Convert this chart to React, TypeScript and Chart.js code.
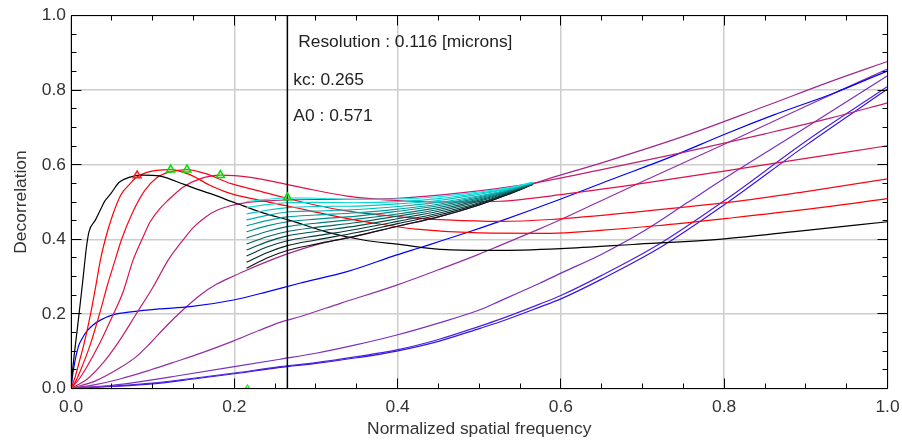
import React, { useEffect, useRef } from 'react';
import { Chart, registerables } from 'chart.js';

Chart.register(...registerables);

type Pt = [number, number];

const FONT = '"Liberation Sans", Arial, sans-serif';
const FONT_SIZE = 17.4;

const xTickLabels = ['0.0', '0.2', '0.4', '0.6', '0.8', '1.0'];
const yTickLabels = ['0.0', '0.2', '0.4', '0.6', '0.8', '1.0'];
const xTitle = 'Normalized spatial frequency';
const yTitle = 'Decorrelation';

const resolutionValue = 0.116;
const kcValue = 0.265;
const a0Value = 0.571;

// unfiltered decorrelation curve
const blackCurve: Pt[] = [
  [0, 0], [0.002, 0.05], [0.009, 0.183], [0.014, 0.28], [0.019, 0.38], [0.022, 0.42], [0.03, 0.452],
  [0.036, 0.479], [0.041, 0.501], [0.049, 0.523], [0.059, 0.553], [0.071, 0.566], [0.088, 0.572],
  [0.108, 0.57], [0.129, 0.555], [0.15, 0.538], [0.17, 0.523], [0.203, 0.496], [0.236, 0.47],
  [0.266, 0.452], [0.317, 0.417], [0.358, 0.398], [0.399, 0.387], [0.46, 0.372], [0.52, 0.37],
  [0.6, 0.375], [0.688, 0.386], [0.8, 0.401], [0.892, 0.422], [1.0, 0.447],
];

// high-pass filtered curves
const filtered1: Pt[] = [
  [0, 0], [0.005, 0.03], [0.01, 0.07], [0.016, 0.12], [0.024, 0.2], [0.03, 0.27], [0.036, 0.344],
  [0.042, 0.4], [0.051, 0.465], [0.061, 0.519], [0.071, 0.546], [0.08, 0.566], [0.092, 0.579],
  [0.105, 0.585], [0.122, 0.587], [0.145, 0.574], [0.17, 0.545], [0.195, 0.523], [0.23, 0.505],
  [0.264, 0.49], [0.317, 0.465], [0.366, 0.445], [0.423, 0.427], [0.5, 0.417], [0.587, 0.416],
  [0.648, 0.424], [0.72, 0.437], [0.803, 0.456], [0.9, 0.48], [1, 0.509],
];
const filtered2: Pt[] = [
  [0, 0], [0.006, 0.02], [0.012, 0.05], [0.024, 0.12], [0.035, 0.2], [0.045, 0.28], [0.054, 0.344],
  [0.062, 0.4], [0.075, 0.47], [0.09, 0.53], [0.105, 0.565], [0.12, 0.58], [0.142, 0.587],
  [0.165, 0.576], [0.195, 0.55], [0.23, 0.53], [0.264, 0.51], [0.329, 0.479], [0.399, 0.461],
  [0.46, 0.452], [0.525, 0.448], [0.587, 0.453], [0.7, 0.475], [0.827, 0.505], [0.9, 0.528], [1, 0.562],
];
const filtered3: Pt[] = [
  [0, 0], [0.01, 0.025], [0.02, 0.06], [0.035, 0.12], [0.05, 0.19], [0.064, 0.26], [0.076, 0.344],
  [0.087, 0.4], [0.097, 0.447], [0.108, 0.48], [0.118, 0.503], [0.138, 0.541], [0.158, 0.562],
  [0.183, 0.572], [0.22, 0.566], [0.28, 0.54], [0.338, 0.516], [0.4, 0.504], [0.45, 0.5],
  [0.525, 0.502], [0.6, 0.52], [0.7, 0.55], [0.8, 0.583], [0.9, 0.617], [1, 0.651],
];
const filtered4: Pt[] = [
  [0, 0], [0.02, 0.025], [0.04, 0.07], [0.06, 0.13], [0.08, 0.2], [0.1, 0.27], [0.119, 0.344],
  [0.129, 0.375], [0.14, 0.406], [0.15, 0.432], [0.165, 0.46], [0.178, 0.477], [0.195, 0.49],
  [0.211, 0.497], [0.24, 0.503], [0.27, 0.506], [0.32, 0.507], [0.4, 0.51], [0.48, 0.525],
  [0.565, 0.55], [0.65, 0.587], [0.75, 0.633], [0.85, 0.683], [0.93, 0.725], [1, 0.766],
];
const filtered5: Pt[] = [
  [0, 0], [0.03, 0.02], [0.06, 0.055], [0.08, 0.085], [0.097, 0.121], [0.118, 0.17], [0.138, 0.212],
  [0.158, 0.25], [0.178, 0.279], [0.2, 0.302], [0.215, 0.317], [0.24, 0.34],
  [0.264, 0.36], [0.3, 0.385], [0.35, 0.409], [0.4, 0.435], [0.45, 0.46], [0.5, 0.492],
  [0.535, 0.52], [0.565, 0.548], [0.65, 0.605], [0.75, 0.676], [0.85, 0.757], [0.93, 0.823], [1, 0.877],
];
const filtered6: Pt[] = [
  [0, 0], [0.03, 0.01], [0.06, 0.025], [0.097, 0.049], [0.129, 0.072], [0.16, 0.095], [0.2, 0.128],
  [0.23, 0.155], [0.256, 0.177], [0.28, 0.192], [0.33, 0.228], [0.399, 0.277], [0.45, 0.318],
  [0.5, 0.36], [0.525, 0.383], [0.574, 0.428], [0.6, 0.453], [0.648, 0.502], [0.7, 0.555],
  [0.8, 0.655], [0.9, 0.757], [1, 0.857],
];
const filtered7: Pt[] = [
  [0, 0], [0.05, 0.008], [0.097, 0.022], [0.129, 0.033], [0.2, 0.058], [0.256, 0.078], [0.3, 0.094],
  [0.35, 0.117], [0.399, 0.143], [0.45, 0.175], [0.5, 0.21], [0.525, 0.234], [0.574, 0.282],
  [0.6, 0.309], [0.65, 0.36], [0.7, 0.42], [0.754, 0.497], [0.8, 0.563], [0.9, 0.7], [1, 0.839],
];
const filtered8: Pt[] = [
  [0, 0], [0.05, 0.006], [0.1, 0.014], [0.15, 0.027], [0.2, 0.041], [0.256, 0.058], [0.3, 0.069],
  [0.35, 0.085], [0.399, 0.103], [0.45, 0.131], [0.501, 0.167], [0.525, 0.185], [0.574, 0.226],
  [0.6, 0.249], [0.65, 0.303], [0.721, 0.388], [0.803, 0.508], [0.9, 0.663], [1, 0.81],
];
const filtered9: Pt[] = [
  [0, 0], [0.05, 0.005], [0.1, 0.012], [0.15, 0.025], [0.2, 0.039], [0.256, 0.056], [0.3, 0.067],
  [0.35, 0.082], [0.399, 0.1], [0.45, 0.126], [0.501, 0.161], [0.525, 0.178], [0.574, 0.218],
  [0.6, 0.24], [0.65, 0.293], [0.721, 0.377], [0.803, 0.497], [0.9, 0.652], [1, 0.803],
];
const blueCurve: Pt[] = [
  [0, 0], [0.003, 0.05], [0.009, 0.112], [0.014, 0.135], [0.019, 0.152], [0.027, 0.17], [0.036, 0.183],
  [0.051, 0.197], [0.076, 0.206], [0.108, 0.213], [0.146, 0.219], [0.199, 0.237], [0.24, 0.259],
  [0.28, 0.282], [0.338, 0.313], [0.399, 0.358], [0.431, 0.38], [0.485, 0.418], [0.525, 0.448],
  [0.6, 0.508], [0.66, 0.559], [0.73, 0.617], [0.803, 0.684], [0.86, 0.733], [0.934, 0.792], [1, 0.852],
];

// refinement curves (cyan -> black)
const refineX = [0.215, 0.24, 0.265, 0.3, 0.35, 0.4, 0.45, 0.5, 0.535, 0.565];
const refineY: number[][] = [
  [0.501, 0.507, 0.511, 0.510, 0.507, 0.508, 0.514, 0.527, 0.538, 0.553],
  [0.485, 0.493, 0.498, 0.499, 0.498, 0.501, 0.509, 0.524, 0.536, 0.552],
  [0.468, 0.478, 0.485, 0.488, 0.489, 0.495, 0.504, 0.521, 0.535, 0.552],
  [0.452, 0.464, 0.473, 0.476, 0.480, 0.488, 0.499, 0.517, 0.533, 0.551],
  [0.436, 0.450, 0.460, 0.465, 0.471, 0.481, 0.494, 0.514, 0.531, 0.550],
  [0.420, 0.436, 0.447, 0.454, 0.462, 0.475, 0.490, 0.511, 0.530, 0.550],
  [0.403, 0.421, 0.434, 0.443, 0.454, 0.468, 0.485, 0.508, 0.528, 0.549],
  [0.387, 0.407, 0.421, 0.432, 0.445, 0.462, 0.480, 0.505, 0.527, 0.549],
  [0.371, 0.393, 0.409, 0.421, 0.436, 0.455, 0.475, 0.502, 0.525, 0.548],
  [0.355, 0.379, 0.396, 0.409, 0.427, 0.448, 0.470, 0.498, 0.523, 0.547],
  [0.338, 0.364, 0.383, 0.398, 0.418, 0.442, 0.465, 0.495, 0.522, 0.547],
  [0.322, 0.350, 0.370, 0.387, 0.409, 0.435, 0.460, 0.492, 0.520, 0.546],
];
const refineColors = [
  '#10e8e8', '#00d8d8', '#00c8c8', '#00b4b4', '#00a0a0', '#008c8c',
  '#007878', '#006464', '#005050', '#003c3c', '#002828', '#101010',
];

// peak markers
const peakGreen: Pt[] = [[0.122, 0.587], [0.142, 0.587], [0.183, 0.572], [0.265, 0.512]];
const peakRed: Pt[] = [[0.081, 0.571]];
const smallGreen: Pt[] = [[0, 0.002], [0.216, 0.004]];

const mainCurves: { name: string; pts: Pt[]; color: string }[] = [
  { name: 'black', pts: blackCurve, color: '#000000' },
  { name: 'f1', pts: filtered1, color: '#ff0000' },
  { name: 'f2', pts: filtered2, color: '#f80818' },
  { name: 'f3', pts: filtered3, color: '#e0104a' },
  { name: 'f4', pts: filtered4, color: '#c02070' },
  { name: 'blue', pts: blueCurve, color: '#0000ff' },
  { name: 'f5', pts: filtered5, color: '#a02890' },
  { name: 'f6', pts: filtered6, color: '#9030a8' },
  { name: 'f7', pts: filtered7, color: '#7830c4' },
  { name: 'f8', pts: filtered8, color: '#5020dc' },
  { name: 'f9', pts: filtered9, color: '#3018ee' },
];

const toXY = (pts: Pt[]) => pts.map(([x, y]) => ({ x, y }));

const framePlugin = {
  id: 'frameTicks',
  afterDraw(chart: any) {
    const { ctx, chartArea, scales } = chart;
    const { left, right, top, bottom } = chartArea;
    const xs = scales.x;
    const ys = scales.y;
    ctx.save();
    ctx.strokeStyle = '#000';
    ctx.lineWidth = 1;
    const L = Math.floor(left) + 0.5;
    const R = Math.floor(right) + 0.5;
    const T = Math.floor(top) + 0.5;
    const B = Math.floor(bottom) + 0.5;
    ctx.beginPath();
    ctx.rect(L, T, R - L, B - T);
    ctx.stroke();
    ctx.beginPath();
    for (let i = 0; i <= 20; i++) {
      const v = i / 20;
      const len = i % 4 === 0 ? 10 : 5;
      const px = Math.floor(xs.getPixelForValue(v)) + 0.5;
      ctx.moveTo(px, B); ctx.lineTo(px, B - len);
      ctx.moveTo(px, T); ctx.lineTo(px, T + len);
      const py = Math.floor(ys.getPixelForValue(v)) + 0.5;
      ctx.moveTo(L, py); ctx.lineTo(L + len, py);
      ctx.moveTo(R, py); ctx.lineTo(R - len, py);
    }
    ctx.stroke();

    // annotations
    const kx = xs.getPixelForValue(kcValue);
    ctx.fillStyle = '#222';
    ctx.font = `${FONT_SIZE}px ${FONT}`;
    ctx.textBaseline = 'middle';
    ctx.textAlign = 'left';
    ctx.fillText(`Resolution : ${resolutionValue.toFixed(3)} [microns]`, kx + 10.8, top + 26.3);
    ctx.fillText(`kc: ${kcValue.toFixed(3)}`, kx + 6, top + 64.3);
    ctx.fillText(`A0 : ${a0Value.toFixed(3)}`, kx + 6, top + 101);
    ctx.restore();
  },
};

export default function App() {
  const ref = useRef<HTMLCanvasElement>(null);

  useEffect(() => {
    const canvas = ref.current;
    if (!canvas) return;

    const line = (label: string, pts: Pt[], color: string, width = 1.2) => ({
      type: 'line',
      label,
      data: toXY(pts),
      borderColor: color,
      backgroundColor: color,
      borderWidth: width,
      pointRadius: 0,
      fill: false,
      cubicInterpolationMode: 'monotone',
    });

    const datasets: any[] = [];
    datasets.push({
      type: 'line', label: 'A0 peak', data: toXY(peakRed), showLine: false,
      pointStyle: 'triangle', pointRadius: 4.6, pointBorderColor: '#ff1a1a',
      pointBackgroundColor: 'rgba(255,0,0,0.06)', pointBorderWidth: 1.5,
    });
    datasets.push({
      type: 'line', label: 'peaks', data: toXY(peakGreen), showLine: false,
      pointStyle: 'triangle', pointRadius: 4.6, pointBorderColor: '#00e000',
      pointBackgroundColor: 'rgba(120,255,120,0.25)', pointBorderWidth: 1.5,
    });
    datasets.push({
      type: 'line', label: 'small', data: toXY(smallGreen), showLine: false,
      pointStyle: 'triangle', pointRadius: 2.2, pointBorderColor: '#00e000',
      pointBackgroundColor: 'rgba(0,0,0,0)', pointBorderWidth: 1,
    });
    datasets.push(line('kc', [[kcValue, 0], [kcValue, 1]], '#000000', 1.5));
    refineY.forEach((ys, i) => {
      datasets.push(line(`refine${i}`, refineX.map((x, j) => [x, ys[j]] as Pt), refineColors[i], 1.1));
    });
    mainCurves.forEach((c) => datasets.push(line(c.name, c.pts, c.color, 1.2)));

    const tickFont = { family: FONT, size: FONT_SIZE };
    const chart = new Chart(canvas, {
      type: 'line',
      data: { datasets },
      options: {
        responsive: false,
        animation: false,
        devicePixelRatio: 1,
        events: [],
        layout: { padding: { left: 0, right: 14.5, top: 15.7, bottom: 0 } },
        plugins: { legend: { display: false }, tooltip: { enabled: false } },
        scales: {
          x: {
            type: 'linear', min: 0, max: 1,
            ticks: {
              stepSize: 0.2, padding: 8.3, color: '#333', font: tickFont,
              maxRotation: 0, autoSkip: false,
              callback: (_v: any, i: number) => xTickLabels[i],
            },
            grid: { color: '#cdcdcd', lineWidth: 1.5, drawTicks: false },
            border: { display: false },
            title: { display: true, text: xTitle, color: '#333', font: tickFont, padding: { top: 0, bottom: 2 } },
            afterFit: (s: any) => { s.height = 53.7; s.paddingLeft = 0; s.paddingRight = 0; },
          },
          y: {
            type: 'linear', min: 0, max: 1,
            ticks: {
              stepSize: 0.2, padding: 5, color: '#333', font: tickFont,
              callback: (_v: any, i: number) => yTickLabels[i],
            },
            grid: { color: '#cdcdcd', lineWidth: 1.5, drawTicks: false },
            border: { display: false },
            title: { display: true, text: yTitle, color: '#333', font: tickFont, padding: { top: 10.6, bottom: 0 } },
            afterFit: (s: any) => { s.width = 71; s.paddingTop = 0; s.paddingBottom = 0; },
          },
        },
      } as any,
      plugins: [framePlugin],
    } as any);

    return () => chart.destroy();
  }, []);

  return (
    <div style={{ position: 'fixed', left: 0, top: 0, width: 902, height: 442, background: '#fff' }}>
      <canvas ref={ref} width={902} height={442} style={{ display: 'block', width: 902, height: 442 }} />
    </div>
  );
}
